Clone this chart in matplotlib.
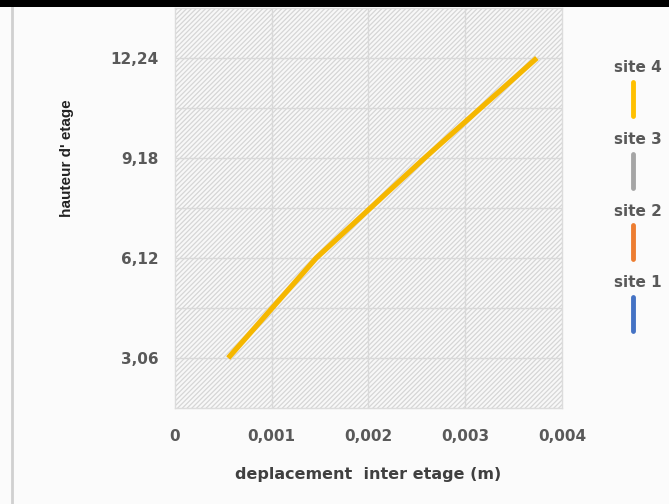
import matplotlib
matplotlib.use("Agg")
import matplotlib.pyplot as plt
from matplotlib.lines import Line2D
from matplotlib.patches import Rectangle

# Storey heights (m) and inter-storey drift (m)
heights = [3.06, 6.12, 9.18, 12.24]
site4_drift = [0.00055, 0.00146, 0.00258, 0.00374]

x_ticks = [0, 0.001, 0.002, 0.003, 0.004]
x_tick_labels = ["0", "0,001", "0,002", "0,003", "0,004"]
y_ticks = [3.06, 6.12, 9.18, 12.24]
y_tick_labels = ["3,06", "6,12", "9,18", "12,24"]
y_grid = [1.53, 3.06, 4.59, 6.12, 7.65, 9.18, 10.71, 12.24, 13.77]

legend_labels = ["site 4", "site 3", "site 2", "site 1"]
legend_colors = ["#FFC000", "#A5A5A5", "#ED7D31", "#4472C4"]

plt.rcParams["hatch.color"] = "#d6d6d6"
plt.rcParams["hatch.linewidth"] = 0.9

W, H = 669, 504
fig = plt.figure(figsize=(W / 100, H / 100), dpi=100)
fig.patch.set_facecolor("#fbfbfb")

def fx(px):
    return px / W

def fy(py):
    return 1 - py / H

ax = fig.add_axes([fx(175), fy(408), fx(562) - fx(175), fy(8) - fy(408)])
ax.set_facecolor("#f8f8f8")
ax.add_patch(Rectangle((0, 0), 1, 1, transform=ax.transAxes, facecolor="none",
                       hatch="///////", edgecolor="#d6d6d6", linewidth=0, zorder=0))

ax.set_xlim(0, 0.004)
ax.set_ylim(1.53, 13.77)
ax.set_xticks(x_ticks)
ax.set_xticklabels(x_tick_labels)
ax.set_yticks(y_ticks)
ax.set_yticklabels(y_tick_labels)
for g in x_ticks[1:-1]:
    ax.axvline(g, color="#d9d9d9", lw=1, zorder=1)
for g in y_grid[1:-1]:
    ax.axhline(g, color="#d9d9d9", lw=1, zorder=1)

ax.tick_params(length=0, colors="#595959", labelsize=11)
ax.tick_params(axis="x", pad=15)
ax.tick_params(axis="y", pad=12)
for lab in ax.get_xticklabels() + ax.get_yticklabels():
    lab.set_fontweight("bold")
for side, sp in ax.spines.items():
    sp.set_color("#dcdcdc")
    sp.set_linewidth(1)

ax.plot(site4_drift, heights, color="#F5B700", lw=3.8, solid_capstyle="butt", zorder=3)

fig.text(fx(368), fy(475), "deplacement  inter etage (m)", ha="center", va="center",
         fontsize=11.5, fontweight="bold", color="#404040")
fig.text(fx(67), fy(158), "hauteur d' etage", ha="center", va="center", rotation=90,
         fontsize=11, color="#222222", family=["Liberation Sans", "DejaVu Sans"],
         fontweight="bold")

# legend column on the right
for i, (lab, col) in enumerate(zip(legend_labels, legend_colors)):
    ty = 68 + i * 71.5
    fig.text(fx(614), fy(ty), lab, ha="left", va="center", fontsize=11,
             color="#595959", fontweight="bold")
    fig.add_artist(Line2D([fx(633), fx(633)], [fy(ty + 14), fy(ty + 48)],
                          color=col, lw=3.5, solid_capstyle="round"))

# page frame
fig.add_artist(Rectangle((0, fy(7)), 1, 7 / H, transform=fig.transFigure,
                         facecolor="black", edgecolor="none"))
fig.add_artist(Line2D([fx(12), fx(12)], [0, fy(8)], color="#d0d0d0", lw=2))

fig.savefig("out.png", dpi=100, facecolor=fig.get_facecolor())
